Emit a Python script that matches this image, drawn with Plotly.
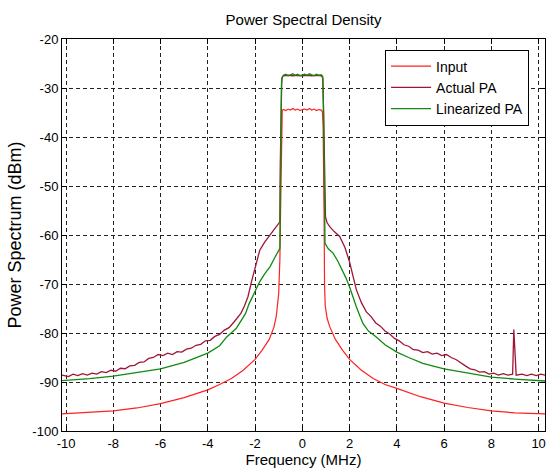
import plotly.graph_objects as go

# ---------------- data ----------------
input_f = [-10.17, -9, -8, -7, -6, -5, -4, -3.5, -3, -2.5, -2, -1.7, -1.4, -1.2, -1.1,
           -1.0, -0.95, -0.92, -0.9, -0.88, -0.85,
           -0.8, -0.7, -0.6, -0.5, -0.4, -0.3, -0.2, -0.1, 0.0, 0.1, 0.2, 0.3, 0.4, 0.5, 0.6, 0.7, 0.8,
           0.85, 0.88, 0.9, 0.92, 0.94, 0.97, 1.05, 1.16, 1.4, 1.7, 2.0, 2.5, 3.0, 3.5, 4.0, 5.0,
           6.0, 7.0, 8.0, 9.0, 10.27]
input_db = [-96.5, -96.2, -95.9, -95.3, -94.4, -93.2, -91.6, -90.5, -89.3, -87.6, -85.4, -83.5, -81.3, -78.8, -76.5,
            -72.0, -65.0, -55.0, -45.0, -38.0, -34.6,
            -34.4, -34.6, -34.3, -34.5, -34.2, -34.5, -34.3, -34.6, -34.4, -34.3, -34.5, -34.2, -34.5, -34.3, -34.6, -34.4, -34.5,
            -34.8, -38.0, -45.0, -55.0, -70.0, -74.5, -77.0, -78.7, -81.3, -83.5, -85.4, -87.6, -89.3, -90.5, -91.3, -93.0,
            -94.3, -95.2, -95.9, -96.3, -96.5]

actual_f = [-10.17, -9.9, -9.7, -9.5, -9.3, -9.1, -8.9, -8.7, -8.5, -8.3, -8.1, -7.9, -7.7, -7.5, -7.3, -7.1,
            -6.9, -6.7, -6.5, -6.3, -6.1, -5.9, -5.7, -5.5, -5.3, -5.1, -4.9, -4.7, -4.5, -4.3, -4.1, -3.9,
            -3.7, -3.5, -3.3, -3.1, -2.9, -2.75, -2.6, -2.45, -2.3, -2.15, -2.0, -1.9, -1.8, -1.6, -1.37,
            -1.15, -0.95, -0.93, -0.9, -0.87,
            -0.8, -0.6, -0.4, -0.2, 0.0, 0.2, 0.4, 0.6, 0.8,
            0.87, 0.92, 0.96, 0.98, 1.05, 1.16, 1.35, 1.58, 1.8, 2.0, 2.15, 2.29, 2.5, 2.71, 2.9, 3.1, 3.3,
            3.5, 3.7, 3.9, 4.1, 4.3, 4.5, 4.7, 4.9, 5.1, 5.3, 5.5, 5.7, 5.9, 6.1, 6.3, 6.5, 6.7, 6.9, 7.1,
            7.3, 7.5, 7.7, 7.9, 8.1, 8.3, 8.5, 8.7, 8.9, 8.95, 8.98, 9.0, 9.05, 9.3, 9.5, 9.7, 9.9, 10.1, 10.27]
actual_db = [-88.6, -88.9, -88.4, -88.7, -88.3, -88.6, -88.2, -88.4, -87.9, -88.1, -87.6, -87.8, -87.2, -87.3, -86.7, -86.6,
             -86.0, -85.9, -85.2, -85.0, -84.4, -84.6, -84.1, -84.4, -83.8, -83.9, -83.3, -83.1, -82.5, -82.3, -81.6, -81.5,
             -80.7, -80.3, -79.4, -78.9, -77.8, -77.0, -76.0, -74.5, -72.6, -69.5, -66.8, -64.5, -63.1, -61.5, -60.0,
             -58.5, -57.3, -45.0, -32.0, -28.0,
             -27.5, -27.4, -27.5, -27.4, -27.5, -27.4, -27.5, -27.4, -27.5,
             -28.0, -40.0, -55.0, -56.3, -57.5, -58.3, -59.3, -60.3, -62.5, -65.5, -68.5, -71.2, -73.8, -75.7, -76.6, -77.9, -78.6,
             -79.6, -80.2, -81.1, -81.6, -82.4, -82.7, -83.4, -83.5, -84.0, -83.8, -84.3, -84.1, -84.6, -84.4, -85.0, -85.4, -86.1, -86.7, -87.3,
             -87.5, -88.0, -87.9, -88.4, -88.2, -88.6, -88.3, -88.6, -88.4, -79.3, -82.0, -82.0, -88.6, -88.4, -88.7, -88.4, -88.7, -88.4, -88.6]

lin_f = [-10.17, -9, -8, -7, -6, -5, -4, -3.5, -3.2, -2.8, -2.6, -2.4, -2.25, -2.1, -1.9, -1.8, -1.6,
         -1.37, -1.15, -0.95, -0.93, -0.91, -0.88, -0.85,
         -0.8, -0.7, -0.6, -0.5, -0.4, -0.3, -0.2, -0.1, 0.0, 0.1, 0.2, 0.3, 0.4, 0.5, 0.6, 0.7, 0.8,
         0.86, 0.9, 0.93, 0.96, 1.1, 1.3, 1.5, 1.7, 1.85, 2.0, 2.15, 2.29, 2.45, 2.57, 2.8, 3.13, 3.5,
         4.0, 4.5, 5.1, 6.0, 7.0, 8.0, 9.0, 10.27]
lin_db = [-89.7, -89.3, -88.8, -88.1, -87.3, -86.0, -84.1, -82.6, -80.8, -79.1, -77.5, -76.0, -74.0, -72.6, -70.5, -69.5, -68.0,
          -66.5, -64.5, -62.7, -50.0, -35.0, -29.0, -27.8,
          -27.4, -27.2, -27.5, -27.3, -27.1, -27.4, -27.2, -27.5, -27.3, -27.2, -27.4, -27.1, -27.3, -27.5, -27.2, -27.4, -27.3,
          -27.6, -35.0, -50.0, -61.7, -62.8, -63.7, -65.3, -67.2, -68.8, -70.6, -72.8, -74.7, -76.7, -78.1, -79.6, -80.8, -82.4,
          -83.9, -85.0, -86.2, -87.3, -88.2, -89.0, -89.4, -89.8]

x_ticks = [-10, -8, -6, -4, -2, 0, 2, 4, 6, 8, 10]
x_tick_labels = ["-10", "-8", "-6", "-4", "-2", "0", "2", "4", "6", "8", "10"]
y_ticks = [-100, -90, -80, -70, -60, -50, -40, -30, -20]
y_tick_labels = ["-100", "-90", "-80", "-70", "-60", "-50", "-40", "-30", "-20"]

# ---------------- figure ----------------
FONT = "Liberation Sans, Arial, sans-serif"

fig = go.Figure()
fig.add_trace(go.Scatter(x=input_f, y=input_db, mode="lines", name="Input",
                         line=dict(color="#ff2020", width=1.2)))
fig.add_trace(go.Scatter(x=actual_f, y=actual_db, mode="lines", name="Actual PA",
                         line=dict(color="#a01535", width=1.3)))
fig.add_trace(go.Scatter(x=lin_f, y=lin_db, mode="lines", name="Linearized PA",
                         line=dict(color="#108a10", width=1.3)))

axis_common = dict(showline=True, linecolor="black", linewidth=1, mirror="ticks",
                   ticks="inside", ticklen=5, tickcolor="black",
                   showgrid=True, gridcolor="#222222", gridwidth=1, griddash="4px,3px",
                   zeroline=False, tickfont=dict(family=FONT, size=13, color="black"))

fig.update_xaxes(range=[-10.17, 10.27], tickvals=x_ticks, ticktext=x_tick_labels, **axis_common,
                 title=dict(text="Frequency (MHz)", font=dict(family=FONT, size=15, color="black"), standoff=4))
fig.update_yaxes(range=[-100, -20], tickvals=y_ticks, ticktext=y_tick_labels, **axis_common,
                 title=dict(text="Power Spectrum (dBm)", font=dict(family=FONT, size=18, color="black"), standoff=6))

fig.update_layout(
    width=546, height=475,
    margin=dict(l=62, r=1, t=39, b=44),
    paper_bgcolor="white", plot_bgcolor="white",
    title=dict(text="Power Spectral Density", xref="paper", x=0.5, xanchor="center",
               y=0.958, yanchor="middle",
               font=dict(family=FONT, size=15, color="black")),
    legend=dict(x=0.967, y=0.973, xanchor="right", yanchor="top",
                bgcolor="white", bordercolor="black", borderwidth=1, itemwidth=40,
                font=dict(family=FONT, size=14, color="black")),
    showlegend=True,
)

fig.write_html("out.html", config={"displayModeBar": False},
               post_script="document.body.style.margin='0';")
